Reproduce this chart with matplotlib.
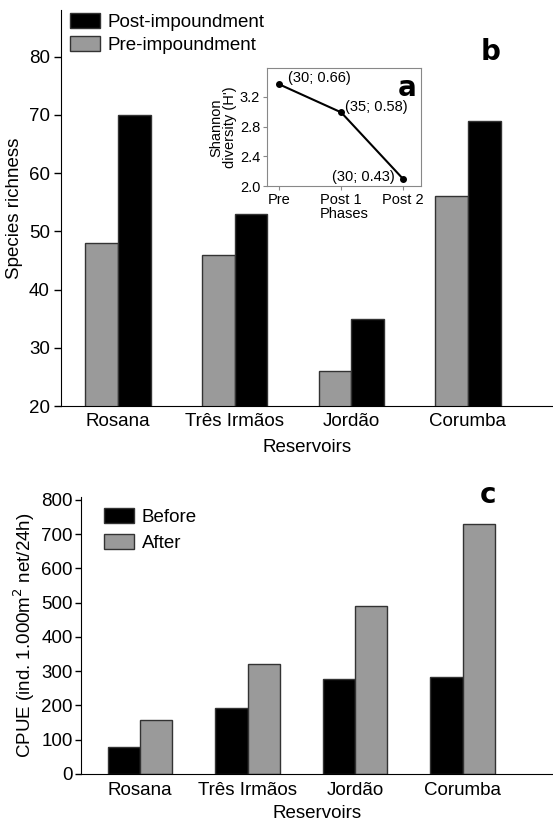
import numpy as np
import matplotlib
matplotlib.use("Agg")
import matplotlib.pyplot as plt
from matplotlib.patches import Patch

plt.rcParams['font.family'] = ['Liberation Sans', 'DejaVu Sans']

# Species richness (panel b)
reservoirs = ["Rosana", "Três Irmãos", "Jordão", "Corumba"]
richness_pre = [48, 46, 26, 56]
richness_post = [70, 53, 35, 69]

# Shannon diversity (inset a)
phases = ["Pre", "Post 1", "Post 2"]
shannon = [3.365, 2.99, 2.10]
shannon_labels = ["(30; 0.66)", "(35; 0.58)", "(30; 0.43)"]

# CPUE (panel c)
cpue_before = [80, 193, 278, 282]
cpue_after = [157, 322, 490, 730]

gray = "#9a9a9a"
edge = "#333333"
fs = 13.5

fig = plt.figure(figsize=(5.53, 8.24), dpi=100)

# ---- panel b ----
ax = fig.add_axes([0.110, 0.507, 0.890, 0.481])
x = np.arange(len(reservoirs))
w = 0.28
ax.bar(x - w / 2, richness_pre, w, color=gray, edgecolor=edge, linewidth=1)
ax.bar(x + w / 2, richness_post, w, color="black", edgecolor=edge, linewidth=1)
ax.set_ylim(20, 88)
ax.set_xlim(-0.49, 3.73)
ax.set_yticks([20, 30, 40, 50, 60, 70, 80])
ax.set_xticks(x)
ax.set_xticklabels(reservoirs)
ax.tick_params(axis='both', labelsize=fs)
ax.tick_params(axis='x', length=0, pad=5)
ax.tick_params(axis='y', length=5, width=1, pad=3)
ax.set_ylabel("Species richness", fontsize=fs, labelpad=4)
ax.set_xlabel("Reservoirs", fontsize=fs, labelpad=6)
for s in ["top", "right"]:
    ax.spines[s].set_visible(False)
handles = [Patch(facecolor="black", edgecolor=edge, label="Post-impoundment"),
           Patch(facecolor=gray, edgecolor=edge, label="Pre-impoundment")]
ax.legend(handles=handles, loc="upper left", bbox_to_anchor=(0.1136, 0.9936),
          bbox_transform=fig.transFigure, borderaxespad=0, frameon=False,
          fontsize=fs, handlelength=1.6, handleheight=0.87, handletextpad=0.4,
          labelspacing=0.28)
fig.text(491 / 553, 1 - 52 / 824, "b", fontsize=20, fontweight="bold",
         family="DejaVu Sans", ha="center", va="center")

# ---- inset a ----
ins = fig.add_axes([0.483, 0.774, 0.278, 0.143])
xp = np.arange(len(phases))
ins.plot(xp, shannon, color="black", marker="o", markersize=4, linewidth=1.5)
ins.set_xlim(-0.2, 2.29)
ins.set_ylim(2.0, 3.58)
ins.set_yticks([2.0, 2.4, 2.8, 3.2])
ins.set_xticks(xp)
ins.set_xticklabels(phases)
ins.tick_params(labelsize=10.5, length=3, pad=2, color="#888888")
for s in ins.spines.values():
    s.set_color("#888888")
ins.set_xlabel("Phases", fontsize=10.5, labelpad=0)
ins.set_ylabel("Shannon\ndiversity (H')", fontsize=10.5, labelpad=2, linespacing=0.95)
offsets = [(6, 4.5, "left"), (3, 4, "left"), (-6, 1.5, "right")]
for xi, yi, lab, (dx, dy, ha) in zip(xp, shannon, shannon_labels, offsets):
    ins.annotate(lab, (xi, yi), xytext=(dx, dy), textcoords="offset points",
                 fontsize=10.5, ha=ha, va="center")
ins.text(0.97, 0.95, "a", transform=ins.transAxes, fontsize=20, fontweight="bold",
         family="DejaVu Sans", ha="right", va="top")

# ---- panel c ----
ax2 = fig.add_axes([0.1465, 0.0607, 0.8535, 0.336])
w2 = 0.30
ax2.bar(x - w2 / 2, cpue_before, w2, color="black", edgecolor=edge, linewidth=1)
ax2.bar(x + w2 / 2, cpue_after, w2, color=gray, edgecolor=edge, linewidth=1)
ax2.set_ylim(0, 808)
ax2.set_xlim(-0.55, 3.84)
ax2.set_yticks(range(0, 801, 100))
ax2.set_xticks(x)
ax2.set_xticklabels(reservoirs)
ax2.tick_params(axis='both', labelsize=fs)
ax2.tick_params(axis='x', length=0, pad=6)
ax2.tick_params(axis='y', length=4, width=1, pad=2)
ax2.set_ylabel("CPUE (ind. 1.000m$^2$ net/24h)", fontsize=fs, labelpad=3)
ax2.set_xlabel("Reservoirs", fontsize=fs, labelpad=4)
for s in ["top", "right"]:
    ax2.spines[s].set_visible(False)
handles2 = [Patch(facecolor="black", edgecolor=edge, label="Before"),
            Patch(facecolor=gray, edgecolor=edge, label="After")]
ax2.legend(handles=handles2, loc="upper left", bbox_to_anchor=(0.175, 0.3928),
           bbox_transform=fig.transFigure, borderaxespad=0, frameon=False,
           fontsize=fs, handlelength=1.6, handleheight=0.87, handletextpad=0.4,
           labelspacing=0.42)
fig.text(488 / 553, 1 - 495 / 824, "c", fontsize=20, fontweight="bold",
         family="DejaVu Sans", ha="center", va="center")

fig.savefig("out.png", dpi=100)
